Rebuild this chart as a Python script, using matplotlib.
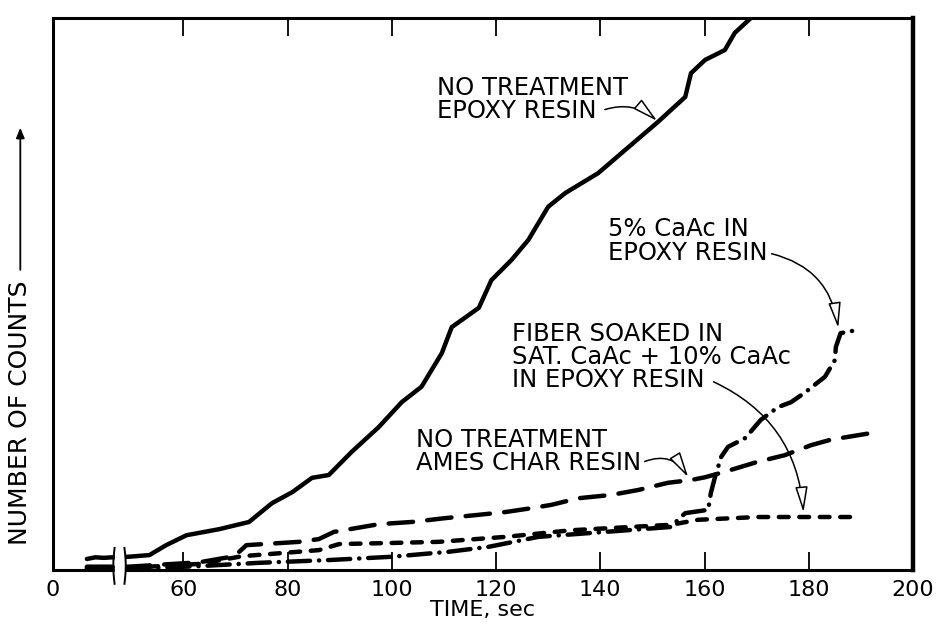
import numpy as np
import matplotlib
matplotlib.use("Agg")
import matplotlib.pyplot as plt
from matplotlib.transforms import blended_transform_factory

# ---------------------------------------------------------------------------
# values: time in sec, counts in arbitrary units (0-100)
epoxy_t = [24, 30, 36, 42, 49.5, 53.5, 56.7, 60.6, 66.9, 72.6, 77.0, 80.9, 84.7, 87.9,
           92.3, 97.5, 101.9, 105.7, 109.6, 111.5, 116.7, 119.1, 123.0, 126.2,
           130.0, 133.3, 139.6, 145.4, 151.1, 156.3, 157.4, 160.1, 163.9, 165.8, 168.9]
epoxy_n = [2.0, 2.3, 2.2, 2.3, 2.4, 2.7, 4.5, 6.3, 7.4, 8.7, 12.1, 14.1, 16.7, 17.2,
           21.4, 25.9, 30.4, 33.2, 39.3, 44.0, 47.5, 52.5, 56.2, 59.8,
           65.8, 68.3, 71.9, 76.6, 81.2, 85.7, 90.0, 92.4, 94.2, 97.3, 100.0]

ames_t = [24, 33, 42, 49.5, 63.1, 69.8, 72.1, 82.2, 86.0, 88.9, 97.5, 103.8, 110.3, 116.7,
          121.8, 126.8, 130.6, 135.8, 142.1, 147.3, 153.0, 157.4, 160.1, 163.9,
          170.2, 175.4, 180.4, 184.2, 193.2]
ames_n = [0.6, 0.6, 0.6, 0.6, 1.4, 2.5, 4.5, 5.1, 5.6, 6.9, 8.3, 8.7, 9.4, 10.0,
          10.5, 11.2, 11.8, 13.0, 13.6, 14.5, 15.8, 16.3, 16.8, 17.8,
          19.6, 20.8, 22.6, 23.6, 25.0]

fiber_t = [24, 33, 42, 49.5, 63.1, 71.3, 86.0, 89.9, 100.0, 109.0, 121.8, 134.4,
           153.6, 158.8, 170.2, 189.4]
fiber_n = [0.4, 0.4, 0.4, 0.4, 1.1, 2.5, 3.6, 4.7, 4.9, 5.1, 6.0, 7.2,
           8.2, 9.1, 9.6, 9.6]

caac_t = [24, 33, 42, 49.5, 63.1, 74.5, 87.9, 100.0, 110.9, 118.6, 128.1, 140.9, 153.6, 154.9,
          156.3, 160.7, 161.2, 162.0, 163.2, 164.5, 167.8, 170.8, 174.1, 176.6,
          179.2, 183.1, 185.0, 185.2, 186.1, 189.4]
caac_n = [0.2, 0.2, 0.2, 0.2, 0.7, 1.3, 1.8, 2.4, 3.3, 4.2, 6.0, 6.9, 7.8, 9.1,
          10.3, 10.9, 13.9, 16.8, 20.5, 22.3, 23.9, 27.2, 29.5, 30.4,
          32.1, 35.0, 38.0, 40.4, 42.9, 43.5]

x_ticks = [0, 60, 80, 100, 120, 140, 160, 180, 200]

# broken time axis: 0..XB squeezed, linear afterwards
XB = 48.0
SQ = 0.271


def fwd(x):
    x = np.asarray(x, dtype=float)
    return np.where(x < XB, x * SQ, XB * SQ + (x - XB))


def inv(u):
    u = np.asarray(u, dtype=float)
    return np.where(u < XB * SQ, u / SQ, (u - XB * SQ) + XB)


# ---------------------------------------------------------------------------
plt.rcParams['font.family'] = ['DejaVu Sans']
fig = plt.figure(figsize=(9.44, 6.30), dpi=100)
ax = fig.add_axes([53 / 944, 60 / 630, 860 / 944, 552 / 630])
ax.set_xscale('function', functions=(fwd, inv))
ax.set_xlim(0, 200)
ax.set_ylim(0, 100)

lw = 3.2
ax.plot(epoxy_t, epoxy_n, color='black', lw=lw, solid_capstyle='round', solid_joinstyle='round')
ax.plot(ames_t, ames_n, color='black', lw=lw, dashes=(5.5, 3.2), dash_capstyle='round')
ax.plot(fiber_t, fiber_n, color='black', lw=lw, dashes=(2.2, 2.4), dash_capstyle='round')
ax.plot(caac_t, caac_n, color='black', lw=lw, dashes=(5.0, 2.0, 0.05, 2.0), dash_capstyle='round')

for s in ax.spines.values():
    s.set_linewidth(2.2)
ax.spines['right'].set_linewidth(3.2)

ax.set_yticks([])
ax.set_xticks(x_ticks)
ax.set_xticklabels([str(v) for v in x_ticks])
ax.tick_params(axis='x', direction='in', length=13, width=1.3, top=True,
               labelsize=16, pad=7)
ax.set_xlabel('TIME, sec', fontsize=16, labelpad=0)

# axis break
trans = blended_transform_factory(ax.transData, ax.transAxes)
ax.axvspan(43.6, 48.7, ymin=-0.012, ymax=0.05, color='white', zorder=5, clip_on=False)
tt = np.linspace(-0.025, 0.04, 20)
bow = np.sin((tt + 0.025) / 0.065 * np.pi)
ax.plot(43.6 - 0.9 * bow, tt, color='black', lw=1.4, transform=trans, clip_on=False, zorder=6)
ax.plot(48.7 + 0.25 * bow, tt, color='black', lw=1.4, transform=trans, clip_on=False, zorder=6)


# curve labels
def label(text, xy, xytext, rad, relpos):
    ax.annotate(text, xy=xy, xytext=xytext, fontsize=17.5, linespacing=0.95,
                ha='left', va='center',
                arrowprops=dict(arrowstyle='-|>,head_length=0.9,head_width=0.22',
                                fc='white', ec='black', lw=1.1, patchA=None,
                                connectionstyle='arc3,rad=%s' % rad,
                                relpos=relpos, shrinkA=3, shrinkB=1))


label('NO TREATMENT\nEPOXY RESIN', (151.1, 81.2), (108.6, 85.3), -0.3, (0.86, 0.25))
label('5% CaAc IN\nEPOXY RESIN', (185.7, 43.6), (141.5, 59.6), -0.35, (1.0, 0.25))
label('FIBER SOAKED IN\nSAT. CaAc + 10% CaAc\nIN EPOXY RESIN', (179.0, 10.2), (123.0, 38.6),
      -0.3, (0.71, 0.17))
label('NO TREATMENT\nAMES CHAR RESIN', (157.0, 16.6), (104.6, 21.5), -0.45, (1.0, 0.25))

# y label with upward arrow
yl = ax.text(-0.038, 0.045, 'NUMBER OF COUNTS', transform=ax.transAxes, rotation=90,
             ha='center', va='bottom', fontsize=18)
fig.canvas.draw()
bb = yl.get_window_extent()
xc = (bb.x0 + bb.x1) / 2
fig.add_artist(matplotlib.patches.FancyArrowPatch(
    (xc, bb.y1 + 8), (xc, 630 - 125), transform=None,
    arrowstyle='-|>,head_length=6,head_width=2.5', color='black', lw=1.3))

fig.savefig('out.png', dpi=100)
